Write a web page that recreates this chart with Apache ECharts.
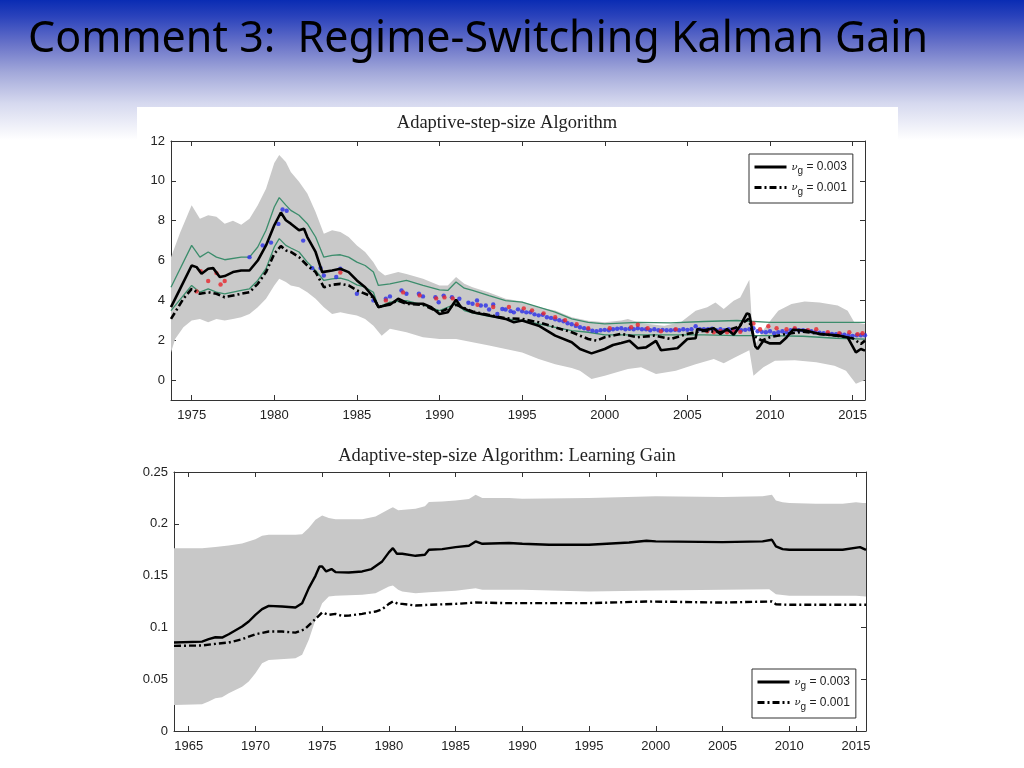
<!DOCTYPE html>
<html>
<head>
<meta charset="utf-8">
<script src="https://cdn.jsdelivr.net/npm/echarts@6/dist/echarts.min.js"></script>
<style>
html,body{margin:0;padding:0;background:#fff;}
#chart{width:1024px;height:768px;}
</style>
</head>
<body>
<div id="chart"></div>
<script>
// ---------------- DATA ----------------
const pageTitle = 'Comment 3:  Regime-Switching Kalman Gain';
const topTitle = 'Adaptive-step-size Algorithm';
const bottomTitle = 'Adaptive-step-size Algorithm: Learning Gain';
const legendNames = ['s003', 's001'];
const legendValues = ['0.003', '0.001'];

// Top chart: gray band (upper / lower)
const topBandUpX = [1973.75,1974.3,1975.0,1975.5,1976.0,1976.5,1977.0,1977.5,1978.0,1978.5,1979.0,1979.5,1980.0,1980.3,1980.7,1981.0,1981.5,1982.0,1982.5,1983.0,1983.5,1984.0,1984.5,1985.0,1985.5,1986.0,1986.3,1986.7,1987.5,1988.0,1989.0,1990.0,1990.5,1991.0,1991.5,1992.0,1993.0,1994.0,1995.0,1996.0,1997.0,1998.0,1999.0,2000.0,2001.0,2001.4,2002.2,2003.6,2004.6,2005.5,2006.2,2006.7,2007.2,2007.8,2008.2,2008.75,2009.0,2009.5,2009.9,2010.5,2011.3,2012.1,2013.0,2014.1,2014.7,2015.1,2015.75];
const topBandUpY = [6.17,7.4,8.78,8.1,8.27,8.2,7.85,8.0,7.8,8.1,8.78,9.6,10.9,11.3,10.95,10.45,9.95,9.36,8.44,7.35,7.52,7.43,7.18,6.76,6.43,5.92,5.5,5.25,5.42,5.33,5.08,4.75,4.75,5.17,4.83,4.66,4.4,4.08,3.95,3.66,3.49,3.15,2.98,2.9,2.99,3.07,2.85,2.73,2.9,3.48,3.65,3.9,3.57,3.98,4.15,5.03,1.6,2.4,2.85,3.48,3.82,3.95,3.9,3.74,3.48,2.9,2.82];
const topBandLoX = [1973.75,1974.0,1974.5,1975.0,1975.5,1976.0,1976.5,1977.0,1977.5,1978.0,1978.5,1979.0,1979.5,1980.0,1980.3,1980.7,1981.0,1981.5,1982.0,1982.5,1983.0,1983.5,1984.0,1984.5,1985.0,1985.5,1986.0,1986.5,1987.0,1988.0,1989.0,1990.0,1991.0,1992.0,1993.0,1994.0,1995.0,1996.0,1997.0,1998.0,1998.5,1999.2,2000.0,2001.4,2002.2,2003.1,2004.3,2005.5,2006.6,2007.2,2007.9,2008.75,2009.0,2009.6,2010.3,2011.5,2012.8,2013.9,2014.6,2015.2,2015.75];
const topBandLoY = [1.39,2.06,2.65,2.99,3.07,2.9,3.07,2.99,3.07,3.15,3.32,3.66,4.08,4.75,5.08,4.92,4.75,4.66,4.41,4.08,3.66,3.32,3.4,3.32,3.24,3.07,2.73,2.23,2.57,2.4,2.15,2.06,2.06,1.9,1.73,1.56,1.39,1.06,0.8,0.6,0.47,0.05,0.22,0.55,0.64,0.3,0.47,0.8,1.06,0.85,1.14,1.5,0.22,0.64,0.97,1.0,0.89,0.72,0.47,-0.19,0.0];

// Top chart: green lines
const greenUpX = [1973.75,1975.0,1975.5,1976.0,1976.5,1977.0,1978.0,1978.5,1979.0,1979.5,1980.0,1980.3,1980.7,1981.0,1981.5,1982.0,1982.5,1983.0,1983.5,1984.0,1984.5,1985.0,1985.5,1986.0,1986.3,1987.0,1988.0,1989.0,1990.0,1990.5,1991.0,1991.5,1992.0,1993.0,1994.0,1995.0,1996.0,1997.0,1998.0,1999.0,2000.0,2002.0,2004.0,2006.0,2008.0,2010.0,2012.0,2014.0,2015.75];
const greenUpY = [4.66,6.76,6.17,6.43,6.17,6.04,6.17,6.17,6.68,7.52,8.69,9.16,8.78,8.52,8.27,7.85,7.18,6.17,6.26,6.29,6.17,5.92,5.75,5.42,4.75,4.83,5.0,4.75,4.53,4.5,4.92,4.61,4.5,4.24,3.99,3.91,3.66,3.41,3.07,2.9,2.82,2.9,2.87,2.94,2.99,2.9,2.9,2.9,2.9];
const greenLoX = [1973.75,1975.0,1975.5,1976.0,1976.5,1977.0,1978.0,1978.5,1979.0,1979.5,1980.0,1980.3,1980.7,1981.0,1981.5,1982.0,1982.5,1983.0,1983.5,1984.0,1984.5,1985.0,1985.5,1986.0,1986.3,1987.0,1988.0,1989.0,1990.0,1991.0,1991.5,1992.0,1993.0,1994.0,1995.0,1996.0,1997.0,1998.0,1999.0,2000.0,2002.0,2004.0,2006.0,2008.0,2010.0,2012.0,2014.0,2015.75];
const greenLoY = [3.49,4.75,4.41,4.58,4.41,4.33,4.5,4.58,5.0,5.59,6.68,7.1,6.76,6.63,6.43,5.92,5.5,5.0,5.08,5.12,5.0,4.78,4.66,4.41,3.66,3.91,3.99,3.78,3.49,3.83,3.49,3.37,3.2,3.07,2.99,2.82,2.65,2.48,2.4,2.27,2.27,2.27,2.27,2.23,2.23,2.2,2.1,2.06];

// Top chart: black lines
const topSolidX = [1973.75,1974.3,1975.0,1975.3,1975.6,1976.0,1976.3,1976.7,1977.0,1977.5,1978.0,1978.5,1979.0,1979.5,1980.0,1980.4,1980.7,1981.0,1981.5,1981.8,1982.0,1982.5,1982.9,1983.5,1984.0,1984.5,1985.0,1985.5,1986.0,1986.3,1986.7,1987.0,1987.5,1988.0,1988.5,1989.0,1989.5,1990.0,1990.5,1991.0,1991.3,1992.0,1993.0,1994.0,1994.5,1995.0,1996.0,1996.5,1997.0,1998.0,1998.5,1999.2,2000.0,2000.5,2001.0,2001.5,2002.0,2002.5,2003.1,2003.4,2004.4,2005.0,2005.5,2005.6,2006.0,2006.6,2007.0,2007.4,2007.8,2008.2,2008.6,2008.75,2009.1,2009.25,2009.6,2010.0,2010.6,2011.0,2011.4,2012.2,2013.0,2014.2,2014.7,2015.2,2015.5,2015.75];
const topSolidY = [3.66,4.58,5.75,5.67,5.34,5.59,5.62,5.17,5.22,5.42,5.5,5.5,6.0,6.76,7.77,8.41,8.02,7.85,7.52,7.6,7.18,6.43,5.42,5.5,5.59,5.42,5.0,4.66,4.16,3.66,3.74,3.78,4.08,3.88,3.83,3.83,3.66,3.32,3.4,4.03,3.66,3.4,3.24,3.07,2.9,2.99,2.73,2.48,2.23,1.9,1.56,1.34,1.56,1.76,1.86,1.97,1.6,1.64,1.97,1.5,1.6,2.06,2.1,2.56,2.5,2.6,2.31,2.56,2.28,2.73,3.35,3.3,1.7,1.56,1.97,1.84,1.84,2.14,2.53,2.48,2.31,2.23,2.14,1.39,1.56,1.48];
const topDashX = [1973.75,1974.5,1975.0,1975.5,1976.0,1976.5,1977.0,1978.0,1978.5,1979.0,1979.5,1980.0,1980.4,1980.7,1981.0,1981.5,1982.0,1982.5,1983.0,1983.5,1984.0,1984.5,1985.0,1985.5,1986.0,1986.3,1987.0,1987.5,1988.0,1989.0,1990.0,1991.0,1992.0,1993.0,1994.0,1995.0,1996.0,1997.0,1998.0,1999.0,1999.5,2000.0,2001.0,2002.0,2003.0,2004.0,2005.0,2006.0,2007.0,2008.0,2008.7,2009.0,2009.5,2010.0,2011.0,2012.0,2013.0,2014.0,2015.0,2015.5,2015.75];
const topDashY = [3.07,4.08,4.58,4.33,4.41,4.33,4.16,4.33,4.41,4.83,5.42,6.34,6.73,6.51,6.43,6.17,5.75,5.42,4.66,4.78,4.83,4.75,4.5,4.33,4.16,3.66,3.83,3.99,3.83,3.78,3.4,3.78,3.44,3.27,3.1,3.07,2.9,2.65,2.4,2.06,1.98,2.15,2.32,2.15,2.23,2.06,2.32,2.48,2.4,2.65,3.07,2.23,1.98,2.15,2.32,2.43,2.32,2.23,2.1,1.81,1.98];

// Top chart: survey dots
const blueDotX = [1978.5,1979.3,1979.8,1980.25,1980.5,1980.75,1981.75,1982.3,1982.8,1983.0,1983.75,1984.0,1985.0,1986.0,1986.75,1987.0,1987.7,1988.0,1988.75,1989.0,1989.75,1989.95,1990.25,1990.75,1991.2,1991.75,1992.0,1992.27,1992.5,1992.8,1993.0,1993.25,1993.5,1993.8,1994.0,1994.3,1994.5,1994.75,1995.0,1995.25,1995.5,1995.75,1996.0,1996.25,1996.5,1996.75,1997.0,1997.25,1997.5,1997.75,1998.0,1998.25,1998.5,1998.75,1999.0,1999.25,1999.5,1999.75,2000.0,2000.25,2000.5,2000.75,2001.0,2001.25,2001.5,2001.75,2002.0,2002.25,2002.5,2002.75,2003.0,2003.25,2003.5,2003.75,2004.0,2004.25,2004.5,2004.75,2005.0,2005.25,2005.5,2005.75,2006.0,2006.25,2006.5,2006.75,2007.0,2007.25,2007.5,2007.75,2008.0,2008.25,2008.5,2008.75,2009.0,2009.25,2009.5,2009.75,2010.0,2010.25,2010.5,2010.75,2011.0,2011.25,2011.5,2011.75,2012.0,2012.25,2012.5,2012.75,2013.0,2013.25,2013.5,2013.75,2014.0,2014.25,2014.5,2014.75,2015.0,2015.25,2015.5,2015.75];
const blueDotY = [6.17,6.76,6.9,7.84,8.56,8.5,7.0,5.62,5.62,5.25,5.17,5.59,4.33,4.0,4.08,4.2,4.5,4.33,4.33,4.2,4.16,3.91,4.24,4.16,4.08,3.88,3.83,4.0,3.74,3.74,3.54,3.79,3.32,3.57,3.54,3.46,3.4,3.55,3.45,3.4,3.4,3.3,3.25,3.28,3.15,3.12,3.05,3.0,2.95,2.85,2.8,2.72,2.65,2.6,2.55,2.48,2.45,2.5,2.52,2.5,2.55,2.58,2.6,2.55,2.58,2.55,2.6,2.55,2.55,2.5,2.55,2.5,2.52,2.5,2.5,2.52,2.5,2.55,2.52,2.55,2.7,2.55,2.55,2.55,2.58,2.5,2.55,2.5,2.55,2.5,2.55,2.5,2.52,2.55,2.6,2.45,2.42,2.4,2.45,2.35,2.4,2.45,2.4,2.5,2.55,2.5,2.5,2.48,2.45,2.4,2.38,2.35,2.33,2.32,2.3,2.3,2.28,2.25,2.22,2.25,2.25,2.25];
const redDotX = [1975.3,1975.55,1976.0,1976.5,1976.75,1977.0,1984.0,1986.75,1987.8,1988.8,1989.8,1990.3,1990.8,1992.3,1993.25,1994.2,1995.1,1995.6,1996.3,1997.0,1997.6,1998.3,1999.0,2000.3,2001.6,2002.0,2002.6,2003.4,2004.3,2006.2,2006.6,2007.0,2007.4,2007.8,2008.2,2009.0,2009.4,2009.9,2010.4,2011.0,2011.5,2012.3,2012.8,2013.5,2014.2,2014.8,2015.3,2015.6];
const redDotY = [4.45,5.47,4.97,5.37,4.8,4.97,5.4,4.0,4.4,4.25,4.1,4.15,4.1,3.78,3.67,3.67,3.6,3.5,3.35,3.15,3.0,2.8,2.6,2.6,2.65,2.78,2.6,2.45,2.55,2.45,2.4,2.45,2.4,2.45,2.42,2.84,2.55,2.7,2.6,2.55,2.6,2.5,2.55,2.4,2.35,2.4,2.3,2.35];

// Bottom chart: learning gain band
const gainBandUpX = [1963.9,1966.0,1967.0,1968.0,1969.0,1970.0,1970.5,1971.0,1973.0,1973.5,1974.0,1974.5,1975.0,1975.5,1976.0,1978.0,1979.0,1980.0,1980.3,1980.7,1982.0,1982.7,1983.0,1984.0,1985.0,1986.0,1986.5,1987.0,1989.0,1990.0,1995.0,2000.0,2005.0,2008.0,2008.7,2009.0,2009.5,2010.0,2012.0,2014.0,2015.0,2015.5,2015.75];
const gainBandUpY = [0.1765,0.1765,0.1775,0.179,0.181,0.185,0.1885,0.1895,0.1895,0.19,0.196,0.204,0.208,0.2055,0.2045,0.2045,0.207,0.214,0.216,0.213,0.2146,0.217,0.221,0.2216,0.2226,0.2239,0.228,0.2249,0.225,0.2242,0.2249,0.2265,0.2258,0.2265,0.228,0.2226,0.2207,0.22,0.2194,0.2194,0.2207,0.22,0.22];
const gainBandLoX = [1963.9,1966.0,1966.5,1967.0,1967.5,1968.0,1969.0,1969.5,1970.0,1970.5,1971.0,1973.0,1973.5,1974.0,1974.5,1975.0,1975.5,1976.0,1978.0,1979.0,1980.0,1980.3,1980.7,1981.0,1982.0,1983.0,1985.0,1986.5,1987.0,1990.0,1995.0,2000.0,2005.0,2008.5,2009.0,2010.0,2015.0,2015.75];
const gainBandLoY = [0.0251,0.0258,0.0284,0.0316,0.0325,0.0364,0.0428,0.0477,0.0557,0.0654,0.0686,0.0702,0.0735,0.088,0.1073,0.1234,0.1298,0.1305,0.1314,0.133,0.1395,0.1405,0.1363,0.1347,0.133,0.134,0.1353,0.1379,0.1363,0.1363,0.1347,0.1355,0.1363,0.1369,0.1321,0.1305,0.1305,0.1298];

// Bottom chart: black lines
const gainSolidX = [1963.9,1966.0,1966.5,1967.0,1967.5,1968.0,1969.0,1969.5,1970.0,1970.5,1971.0,1972.0,1973.0,1973.5,1974.0,1974.5,1974.8,1975.0,1975.3,1975.7,1976.0,1977.0,1978.0,1978.7,1979.5,1980.0,1980.3,1980.6,1981.0,1982.0,1982.7,1983.0,1984.0,1985.0,1986.0,1986.5,1987.0,1989.0,1990.0,1992.0,1995.0,1998.0,1999.3,2000.0,2005.0,2008.0,2008.7,2009.0,2009.5,2010.0,2012.0,2014.0,2015.3,2015.75];
const gainSolidY = [0.0854,0.0863,0.0886,0.0905,0.0902,0.0934,0.1008,0.1057,0.1121,0.1176,0.1208,0.1202,0.1192,0.1234,0.1379,0.1498,0.1588,0.1588,0.154,0.1563,0.1534,0.153,0.154,0.1563,0.1637,0.1724,0.1765,0.1711,0.1711,0.1691,0.1701,0.1749,0.1756,0.1775,0.1788,0.183,0.1807,0.1814,0.1807,0.1798,0.1798,0.182,0.1836,0.183,0.1823,0.183,0.1846,0.1782,0.1756,0.1749,0.1749,0.1749,0.1775,0.1749];
const gainDashX = [1963.9,1966.0,1967.0,1968.0,1969.0,1970.0,1971.0,1972.0,1973.0,1973.7,1974.3,1975.0,1975.5,1976.0,1976.5,1977.0,1978.0,1979.0,1979.5,1980.0,1980.3,1980.7,1981.0,1982.0,1983.0,1985.0,1986.5,1989.0,1995.0,1999.3,2005.0,2008.7,2009.0,2010.0,2015.75];
const gainDashY = [0.0822,0.0825,0.0841,0.0854,0.0886,0.0934,0.096,0.096,0.095,0.0983,0.1057,0.1144,0.1121,0.1131,0.1111,0.1114,0.1131,0.1153,0.1176,0.1227,0.125,0.1227,0.1227,0.1211,0.1218,0.1227,0.124,0.1234,0.1234,0.125,0.124,0.125,0.1224,0.1218,0.1218];

// ---------------- BUILD ----------------
const zip = (xs, ys) => xs.map((x, i) => [x, ys[i]]);
const AXIS_COLOR = '#333';
const LABEL_FONT = 'Liberation Sans';

function bandSeries(xi, ux, uy, lx, ly, color) {
  return {
    type: 'custom', xAxisIndex: xi, yAxisIndex: xi, silent: true, clip: true, z: 1,
    data: [[ux[0], uy[0]]],
    renderItem: function (params, api) {
      const pts = [];
      for (let i = 0; i < ux.length; i++) pts.push(api.coord([ux[i], uy[i]]));
      for (let i = lx.length - 1; i >= 0; i--) pts.push(api.coord([lx[i], ly[i]]));
      return { type: 'polygon', shape: { points: pts }, style: { fill: color } };
    }
  };
}
function lineSeries(name, xi, xs, ys, color, width, type, z) {
  return {
    name: name, type: 'line', xAxisIndex: xi, yAxisIndex: xi, data: zip(xs, ys),
    symbol: 'none', showSymbol: false, silent: true, z: z, animation: false,
    lineStyle: { color: color, width: width, type: type },
    itemStyle: { color: color }
  };
}
function dotSeries(xs, ys, color) {
  return {
    type: 'scatter', xAxisIndex: 0, yAxisIndex: 0, data: zip(xs, ys), silent: true, z: 3,
    symbol: 'circle', symbolSize: 4.4, itemStyle: { color: color }
  };
}
function xAx(gi, pos, min, max, split, showLabel) {
  return {
    type: 'value', gridIndex: gi, position: pos, min: min, max: max, splitNumber: split,
    axisLine: { show: true, onZero: false, lineStyle: { color: AXIS_COLOR, width: 1 } },
    axisTick: { show: true, inside: true, length: 5, lineStyle: { color: AXIS_COLOR } },
    axisLabel: { show: showLabel, showMinLabel: false, showMaxLabel: false, margin: 9,
      fontFamily: LABEL_FONT, fontSize: 13, color: '#222', formatter: v => String(Math.round(v)) },
    splitLine: { show: false }
  };
}
function yAx(gi, pos, min, max, opts, showLabel) {
  return Object.assign({
    type: 'value', gridIndex: gi, position: pos, min: min, max: max,
    axisLine: { show: true, onZero: false, lineStyle: { color: AXIS_COLOR, width: 1 } },
    axisTick: { show: true, inside: true, length: 5, lineStyle: { color: AXIS_COLOR } },
    axisLabel: { show: showLabel, showMinLabel: min === 0, margin: 6,
      fontFamily: LABEL_FONT, fontSize: 13, color: '#222' },
    splitLine: { show: false }
  }, opts);
}
const legendRich = {
  nu: { fontFamily: 'DejaVu Serif', fontStyle: 'italic', fontSize: 10, color: '#222' },
  g: { fontFamily: LABEL_FONT, fontSize: 10, color: '#222', padding: [9, 0, 0, 0] },
  t: { fontFamily: LABEL_FONT, fontSize: 12, color: '#222' }
};
function legendAt(left, top) {
  return {
    show: true, orient: 'vertical', left: left, top: top, data: legendNames,
    selectedMode: false, backgroundColor: '#fff', borderColor: '#333', borderWidth: 1,
    borderRadius: 0, padding: [7, 6, 6, 4], itemGap: 5, itemWidth: 32, itemHeight: 12,
    itemStyle: { opacity: 0 },
    lineStyle: { width: 3 },
    formatter: n => '{nu|ν}{g|g}{t| = ' + legendValues[legendNames.indexOf(n)] + '}',
    textStyle: { rich: legendRich }
  };
}

const option = {
  animation: false,
  backgroundColor: '#fff',
  graphic: [
    { type: 'rect', z: -100, shape: { x: 0, y: 0, width: 1024, height: 140 },
      style: { fill: new echarts.graphic.LinearGradient(0, 0, 0, 1, [
        { offset: 0, color: '#0a2cb3' }, { offset: 0.12, color: '#2b43bc' },
        { offset: 0.32, color: '#6a74c9' }, { offset: 0.52, color: '#a3a9da' },
        { offset: 0.74, color: '#d6d9ef' }, { offset: 1, color: '#ffffff' }]) } },
    { type: 'rect', z: -99, shape: { x: 137, y: 107, width: 761, height: 661 }, style: { fill: '#fff' } },
    { type: 'text', z: 100, x: 28, y: 40,
      style: { text: pageTitle, fontFamily: 'Noto Sans', fontSize: 43, fill: '#000',
        align: 'left', verticalAlign: 'middle' } },
    { type: 'text', z: 100, x: 507, y: 123,
      style: { text: topTitle, fontFamily: 'Liberation Serif', fontSize: 18.5, fill: '#222',
        align: 'center', verticalAlign: 'middle' } },
    { type: 'text', z: 100, x: 507, y: 456,
      style: { text: bottomTitle, fontFamily: 'Liberation Serif', fontSize: 18.5, fill: '#222',
        align: 'center', verticalAlign: 'middle' } }
  ],
  grid: [
    { left: 171, top: 141, width: 694, height: 259, outerBoundsMode: 'none' },
    { left: 174, top: 472, width: 692, height: 259, outerBoundsMode: 'none' }
  ],
  legend: [legendAt(749, 154), legendAt(752, 669)],
  xAxis: [
    xAx(0, 'bottom', 1973.75, 2015.75, 9, true),
    xAx(1, 'bottom', 1963.9, 2015.75, 10, true),
    xAx(0, 'top', 1973.75, 2015.75, 9, false),
    xAx(1, 'top', 1963.9, 2015.75, 10, false)
  ],
  yAxis: [
    yAx(0, 'left', -1, 12, { splitNumber: 6 }, true),
    yAx(1, 'left', 0, 0.25, { interval: 0.05 }, true),
    yAx(0, 'right', -1, 12, { splitNumber: 6 }, false),
    yAx(1, 'right', 0, 0.25, { interval: 0.05 }, false)
  ],
  series: [
    bandSeries(0, topBandUpX, topBandUpY, topBandLoX, topBandLoY, '#c9c9c9'),
    lineSeries('gu', 0, greenUpX, greenUpY, '#3c8d6c', 1.3, 'solid', 2),
    lineSeries('gl', 0, greenLoX, greenLoY, '#3c8d6c', 1.3, 'solid', 2),
    dotSeries(blueDotX, blueDotY, '#2a2ee8'),
    dotSeries(redDotX, redDotY, '#e8262c'),
    lineSeries('s003', 0, topSolidX, topSolidY, '#000', 2.6, 'solid', 4),
    lineSeries('s001', 0, topDashX, topDashY, '#000', 2.6, [7, 3, 2, 3], 4),
    bandSeries(1, gainBandUpX, gainBandUpY, gainBandLoX, gainBandLoY, '#c8c8c8'),
    lineSeries('s003', 1, gainSolidX, gainSolidY, '#000', 2.4, 'solid', 4),
    lineSeries('s001', 1, gainDashX, gainDashY, '#000', 2.4, [7, 3, 2, 3], 4)
  ]
};

const chart = echarts.init(document.getElementById('chart'), null, { renderer: 'canvas' });
chart.setOption(option);
</script>
</body>
</html>
